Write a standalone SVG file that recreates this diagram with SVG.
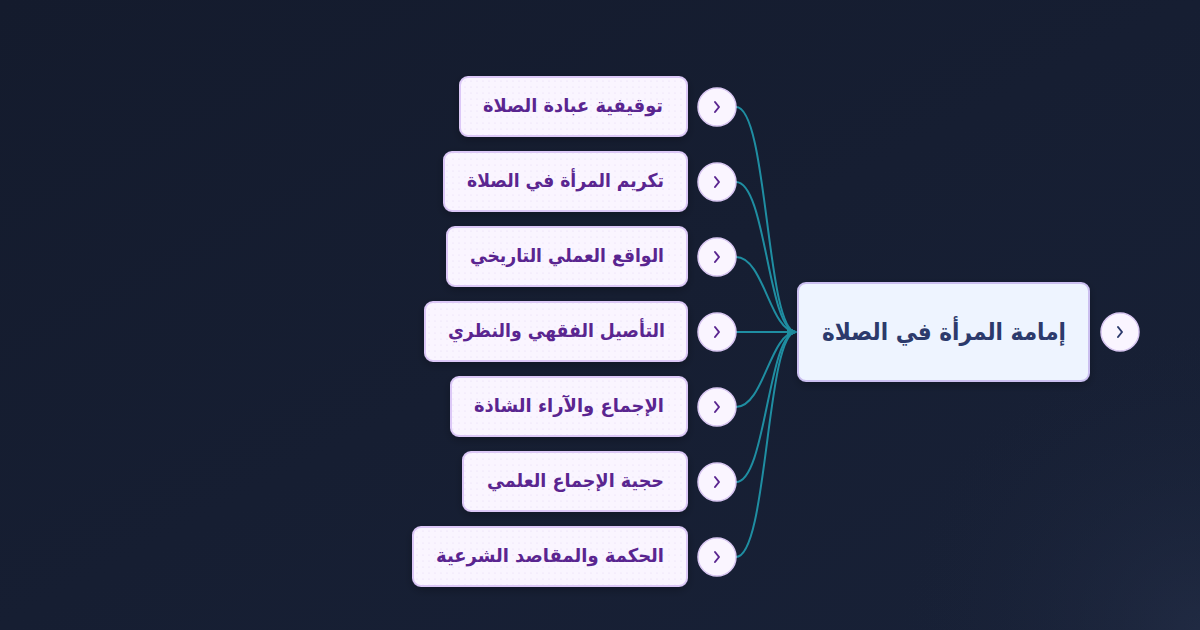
<svg xmlns="http://www.w3.org/2000/svg" width="1200" height="630" viewBox="0 0 1200 630">
  <defs>
    <linearGradient id="bg" x1="0" y1="0" x2="1" y2="1">
      <stop offset="0" stop-color="#141b2d"/>
      <stop offset="1" stop-color="#182137"/>
    </linearGradient>
    <radialGradient id="glow" cx="1200" cy="630" r="300" gradientUnits="userSpaceOnUse">
      <stop offset="0" stop-color="#2a3550" stop-opacity="0.45"/>
      <stop offset="1" stop-color="#1a2338" stop-opacity="0"/>
    </radialGradient>
    <pattern id="dots" width="6" height="6" patternUnits="userSpaceOnUse">
      <rect width="6" height="6" fill="#faf5ff"/>
      <circle cx="3" cy="3" r="0.6" fill="#e6d9f7"/>
    </pattern>
    <marker id="arrow" viewBox="0 0 10 10" refX="9" refY="5" markerWidth="5" markerHeight="5" orient="auto" markerUnits="strokeWidth">
      <path d="M0,0 L10,5 L0,10 z" fill="#1f8ea2"/>
    </marker>
    <filter id="shadow" x="-10%" y="-20%" width="120%" height="150%">
      <feDropShadow dx="0" dy="3" stdDeviation="4" flood-color="#000" flood-opacity="0.25"/>
    </filter>
  </defs>
  <style>
    .child rect.box { fill: url(#dots); stroke: #dcc8f7; stroke-width: 2; }
    .child text { font-family: "DejaVu Sans", sans-serif; font-weight: bold; font-size: 19px; fill: #5a2590; text-anchor: middle; }
    .toggle circle { fill: #faf5ff; stroke: #d9c7f2; stroke-width: 1.5; }
    .toggle path { fill: none; stroke: #5a2590; stroke-width: 2; stroke-linecap: round; stroke-linejoin: round; }
    .root rect.box { fill: #eef4ff; stroke: #cbbff0; stroke-width: 2; }
    .root text { font-family: "DejaVu Sans", sans-serif; font-weight: bold; font-size: 24px; fill: #2c3a6c; text-anchor: middle; }
    .root .toggle path { stroke: #2c3a6c; }
    .connectors path { fill: none; stroke: #1f8ea2; stroke-width: 2; }
  </style>

  <rect width="1200" height="630" fill="url(#bg)"/>
  <rect width="1200" height="630" fill="url(#glow)"/>

  <g class="connectors">
    <path d="M736,107 C768,107 766,332 796,332" marker-end="url(#arrow)"/>
    <path d="M736,182 C766,182 768,332 796,332" marker-end="url(#arrow)"/>
    <path d="M736,257 C764,257 770,332 796,332" marker-end="url(#arrow)"/>
    <path d="M736,332 L796,332" marker-end="url(#arrow)"/>
    <path d="M736,407 C764,407 770,332 796,332" marker-end="url(#arrow)"/>
    <path d="M736,482 C766,482 768,332 796,332" marker-end="url(#arrow)"/>
    <path d="M736,557 C768,557 766,332 796,332" marker-end="url(#arrow)"/>
  </g>

  <g id="root" class="root">
    <rect class="box" x="798" y="283" width="291" height="98" rx="8" filter="url(#shadow)"/>
    <text x="944" y="340" textLength="244" lengthAdjust="spacingAndGlyphs">إمامة المرأة في الصلاة</text>
    <g class="toggle">
      <circle cx="1120" cy="332" r="19"/>
      <path d="M1118,327 L1122,332 L1118,337"/>
    </g>
  </g>

  <g id="n1" class="child">
    <rect class="box" x="460" y="77" width="227" height="59" rx="8" filter="url(#shadow)"/>
    <text x="573" y="112" textLength="180" lengthAdjust="spacingAndGlyphs">توقيفية عبادة الصلاة</text>
    <g class="toggle"><circle cx="717" cy="107" r="19"/><path d="M715,102 L719,107 L715,112"/></g>
  </g>
  <g id="n2" class="child">
    <rect class="box" x="444" y="152" width="243" height="59" rx="8" filter="url(#shadow)"/>
    <text x="565.5" y="187" textLength="197" lengthAdjust="spacingAndGlyphs">تكريم المرأة في الصلاة</text>
    <g class="toggle"><circle cx="717" cy="182" r="19"/><path d="M715,177 L719,182 L715,187"/></g>
  </g>
  <g id="n3" class="child">
    <rect class="box" x="447" y="227" width="240" height="59" rx="8" filter="url(#shadow)"/>
    <text x="567" y="262" textLength="194" lengthAdjust="spacingAndGlyphs">الواقع العملي التاريخي</text>
    <g class="toggle"><circle cx="717" cy="257" r="19"/><path d="M715,252 L719,257 L715,262"/></g>
  </g>
  <g id="n4" class="child">
    <rect class="box" x="425" y="302" width="262" height="59" rx="8" filter="url(#shadow)"/>
    <text x="556.5" y="337" textLength="217" lengthAdjust="spacingAndGlyphs">التأصيل الفقهي والنظري</text>
    <g class="toggle"><circle cx="717" cy="332" r="19"/><path d="M715,327 L719,332 L715,337"/></g>
  </g>
  <g id="n5" class="child">
    <rect class="box" x="451" y="377" width="236" height="59" rx="8" filter="url(#shadow)"/>
    <text x="569" y="412" textLength="190" lengthAdjust="spacingAndGlyphs">الإجماع والآراء الشاذة</text>
    <g class="toggle"><circle cx="717" cy="407" r="19"/><path d="M715,402 L719,407 L715,412"/></g>
  </g>
  <g id="n6" class="child">
    <rect class="box" x="463" y="452" width="224" height="59" rx="8" filter="url(#shadow)"/>
    <text x="575.5" y="487" textLength="177" lengthAdjust="spacingAndGlyphs">حجية الإجماع العلمي</text>
    <g class="toggle"><circle cx="717" cy="482" r="19"/><path d="M715,477 L719,482 L715,487"/></g>
  </g>
  <g id="n7" class="child">
    <rect class="box" x="413" y="527" width="274" height="59" rx="8" filter="url(#shadow)"/>
    <text x="550" y="562" textLength="228" lengthAdjust="spacingAndGlyphs">الحكمة والمقاصد الشرعية</text>
    <g class="toggle"><circle cx="717" cy="557" r="19"/><path d="M715,552 L719,557 L715,562"/></g>
  </g>
</svg>
